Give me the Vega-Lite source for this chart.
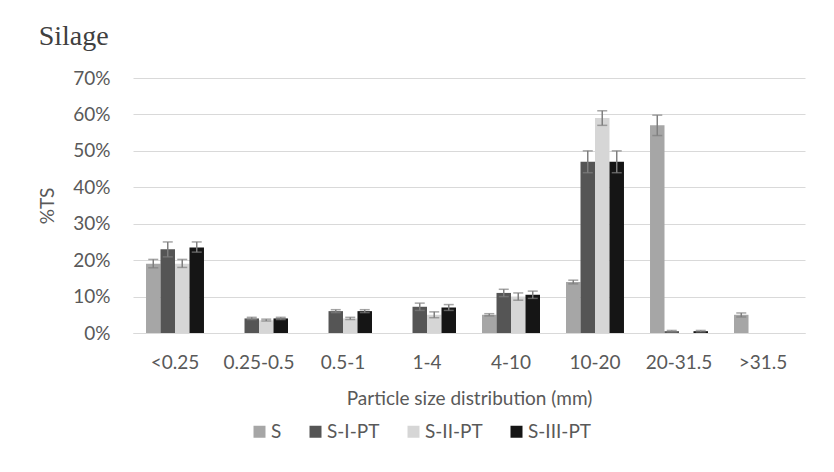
{
  "$schema": "https://vega.github.io/schema/vega-lite/v6.json",
  "width": 672,
  "height": 255,
  "autosize": "none",
  "padding": {"left": 133, "top": 78, "right": 29, "bottom": 139},
  "background": "white",
  "config": {
    "view": {"stroke": null},
    "axisY": {"tickCount": 8, "labelOverlap": false, "format": ".0%", "grid": true, "gridColor": "#d9d9d9", "gridWidth": 1, "domain": false, "ticks": false, "tickSize": 0, "labelPadding": 23, "labelFont": "Lato", "labelFontSize": 19, "labelColor": "#595959", "titleFont": "Lato", "titleFontSize": 19, "titleFontWeight": "normal", "titleColor": "#595959", "titlePadding": 15}
  },
  "title": {"text": "Silage", "anchor": "start", "frame": "bounds", "font": "Liberation Serif", "fontSize": 28, "fontWeight": "normal", "color": "#404040", "offset": 18},
  "data": {"values": [
    {"size": "<0.25", "series": "S", "value": 0.19, "lo": 0.179, "hi": 0.202},
    {"size": "<0.25", "series": "S-I-PT", "value": 0.23, "lo": 0.209, "hi": 0.25},
    {"size": "<0.25", "series": "S-II-PT", "value": 0.19, "lo": 0.18, "hi": 0.202},
    {"size": "<0.25", "series": "S-III-PT", "value": 0.235, "lo": 0.222, "hi": 0.25},
    {"size": "0.25-0.5", "series": "S", "value": 0, "lo": null, "hi": null},
    {"size": "0.25-0.5", "series": "S-I-PT", "value": 0.04, "lo": 0.037, "hi": 0.043},
    {"size": "0.25-0.5", "series": "S-II-PT", "value": 0.035, "lo": 0.033, "hi": 0.038},
    {"size": "0.25-0.5", "series": "S-III-PT", "value": 0.04, "lo": 0.037, "hi": 0.043},
    {"size": "0.5-1", "series": "S", "value": 0, "lo": null, "hi": null},
    {"size": "0.5-1", "series": "S-I-PT", "value": 0.06, "lo": 0.056, "hi": 0.064},
    {"size": "0.5-1", "series": "S-II-PT", "value": 0.04, "lo": 0.037, "hi": 0.043},
    {"size": "0.5-1", "series": "S-III-PT", "value": 0.06, "lo": 0.056, "hi": 0.064},
    {"size": "1-4", "series": "S", "value": 0, "lo": null, "hi": null},
    {"size": "1-4", "series": "S-I-PT", "value": 0.072, "lo": 0.062, "hi": 0.082},
    {"size": "1-4", "series": "S-II-PT", "value": 0.05, "lo": 0.042, "hi": 0.058},
    {"size": "1-4", "series": "S-III-PT", "value": 0.07, "lo": 0.062, "hi": 0.078},
    {"size": "4-10", "series": "S", "value": 0.05, "lo": 0.047, "hi": 0.053},
    {"size": "4-10", "series": "S-I-PT", "value": 0.11, "lo": 0.1, "hi": 0.12},
    {"size": "4-10", "series": "S-II-PT", "value": 0.1, "lo": 0.09, "hi": 0.11},
    {"size": "4-10", "series": "S-III-PT", "value": 0.105, "lo": 0.095, "hi": 0.115},
    {"size": "10-20", "series": "S", "value": 0.14, "lo": 0.135, "hi": 0.145},
    {"size": "10-20", "series": "S-I-PT", "value": 0.47, "lo": 0.44, "hi": 0.5},
    {"size": "10-20", "series": "S-II-PT", "value": 0.59, "lo": 0.57, "hi": 0.61},
    {"size": "10-20", "series": "S-III-PT", "value": 0.47, "lo": 0.44, "hi": 0.5},
    {"size": "20-31.5", "series": "S", "value": 0.57, "lo": 0.542, "hi": 0.598},
    {"size": "20-31.5", "series": "S-I-PT", "value": 0.005, "lo": 0.003, "hi": 0.007},
    {"size": "20-31.5", "series": "S-II-PT", "value": 0, "lo": null, "hi": null},
    {"size": "20-31.5", "series": "S-III-PT", "value": 0.005, "lo": 0.003, "hi": 0.007},
    {"size": ">31.5", "series": "S", "value": 0.05, "lo": 0.044, "hi": 0.055},
    {"size": ">31.5", "series": "S-I-PT", "value": 0, "lo": null, "hi": null},
    {"size": ">31.5", "series": "S-II-PT", "value": 0, "lo": null, "hi": null},
    {"size": ">31.5", "series": "S-III-PT", "value": 0, "lo": null, "hi": null}
  ]},
  "encoding": {
    "x": {
      "field": "size", "type": "nominal", "sort": null,
      "scale": {"paddingInner": 0.31, "paddingOuter": 0.155},
      "title": "Particle size distribution (mm)",
      "axis": {"labelAngle": 0, "domainColor": "#d9d9d9", "domainWidth": 1, "ticks": false, "tickSize": 0, "labelPadding": 20, "labelFont": "Lato", "labelFontSize": 19, "labelColor": "#595959", "titleFont": "Lato", "titleFontSize": 19, "titleFontWeight": "normal", "titleColor": "#595959", "titlePadding": 17}
    },
    "xOffset": {"field": "series", "type": "nominal", "sort": ["S", "S-I-PT", "S-II-PT", "S-III-PT"], "scale": {"paddingInner": 0, "paddingOuter": 0}}
  },
  "layer": [
    {
      "mark": {"type": "bar"},
      "encoding": {
        "y": {"field": "value", "type": "quantitative", "title": "%TS",
          "scale": {"domain": [0, 0.7], "nice": false},
          "axis": {"values": [0, 0.1, 0.2, 0.3, 0.4, 0.5, 0.6, 0.7]}
        },
        "color": {"field": "series", "type": "nominal",
          "scale": {"domain": ["S", "S-I-PT", "S-II-PT", "S-III-PT"], "range": ["#a6a6a6", "#555555", "#d6d6d6", "#151515"]},
          "legend": {"orient": "none", "legendX": 117, "legendY": 344, "direction": "horizontal", "title": null, "symbolType": "square", "symbolSize": 144, "symbolStrokeWidth": 0, "labelFont": "Lato", "labelFontSize": 19, "labelColor": "#595959", "columnPadding": 24, "labelOffset": 2}
        }
      }
    },
    {
      "mark": {"type": "rule", "color": "#7f7f7f", "strokeWidth": 1.5},
      "encoding": {"y": {"field": "lo", "type": "quantitative", "title": "%TS", "axis": {"values": [0, 0.1, 0.2, 0.3, 0.4, 0.5, 0.6, 0.7]}}, "y2": {"field": "hi"}}
    },
    {
      "mark": {"type": "tick", "color": "#7f7f7f", "thickness": 1.5, "size": 10},
      "encoding": {"y": {"field": "lo", "type": "quantitative", "title": "%TS", "axis": {"values": [0, 0.1, 0.2, 0.3, 0.4, 0.5, 0.6, 0.7]}}}
    },
    {
      "mark": {"type": "tick", "color": "#7f7f7f", "thickness": 1.5, "size": 10},
      "encoding": {"y": {"field": "hi", "type": "quantitative", "title": "%TS", "axis": {"values": [0, 0.1, 0.2, 0.3, 0.4, 0.5, 0.6, 0.7]}}}
    }
  ]
}
